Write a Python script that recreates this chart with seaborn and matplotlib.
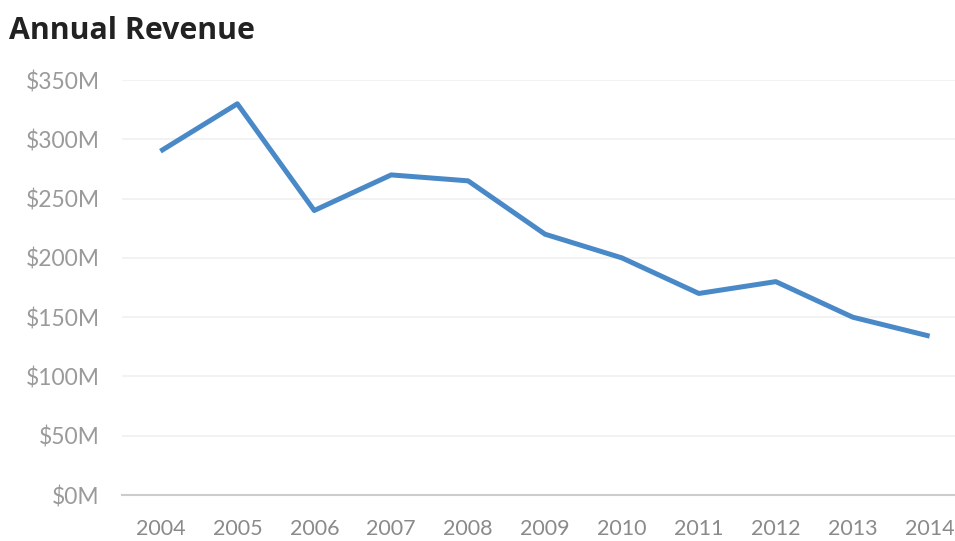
import numpy as np
import pandas as pd
import matplotlib
matplotlib.use("Agg")
import matplotlib.pyplot as plt
import seaborn as sns

# values ($M)
years = [2004, 2005, 2006, 2007, 2008, 2009, 2010, 2011, 2012, 2013, 2014]
revenue = [290, 330, 240, 270, 265, 220, 200, 170, 180, 150, 134]
y_ticks = [0, 50, 100, 150, 200, 250, 300, 350]

df = pd.DataFrame({"Year": years, "Revenue": revenue})

sns.set_theme(style="white")
plt.rcParams["font.family"] = ["Lato", "DejaVu Sans"]

fig = plt.figure(figsize=(9.55, 5.41), dpi=100)
ax = fig.add_axes([0.1277, 0.085, 0.8723, 0.767])

sns.lineplot(data=df, x="Year", y="Revenue", ax=ax, color="#4a89c8",
             linewidth=3.6, solid_capstyle="butt")

ax.set_ylim(0, 350)
ax.set_xlim(years[0] - 0.5, years[-1] + 0.33)
ax.set_yticks(y_ticks)
ax.set_yticklabels([f"${v}M" for v in y_ticks])
ax.set_xticks(years)
ax.set_xticklabels([str(y) for y in years])
ax.set_xticks([y - 0.5 for y in years], minor=True)

ax.grid(axis="y", color="#f0f0f0", linewidth=1.2)
ax.set_axisbelow(True)
for s in ["top", "right", "left"]:
    ax.spines[s].set_visible(False)
ax.spines["bottom"].set_color("#cccccc")
ax.spines["bottom"].set_linewidth(1.5)

ax.tick_params(axis="x", which="major", length=0, pad=17, labelsize=15.5, labelcolor="#8a8a8a")
ax.tick_params(axis="x", which="minor", length=5, width=1.2, color="#cccccc", direction="out")
ax.tick_params(axis="y", length=0, pad=16, labelsize=16.5, labelcolor="#9a9a9a")

ax.set_xlabel("")
ax.set_ylabel("")

fig.text(0.009, 0.942, "Annual Revenue", fontsize=21.8, fontweight="bold",
         family=["Open Sans", "DejaVu Sans"], color="#222222", ha="left", va="center")

fig.savefig("out.png", dpi=100)
